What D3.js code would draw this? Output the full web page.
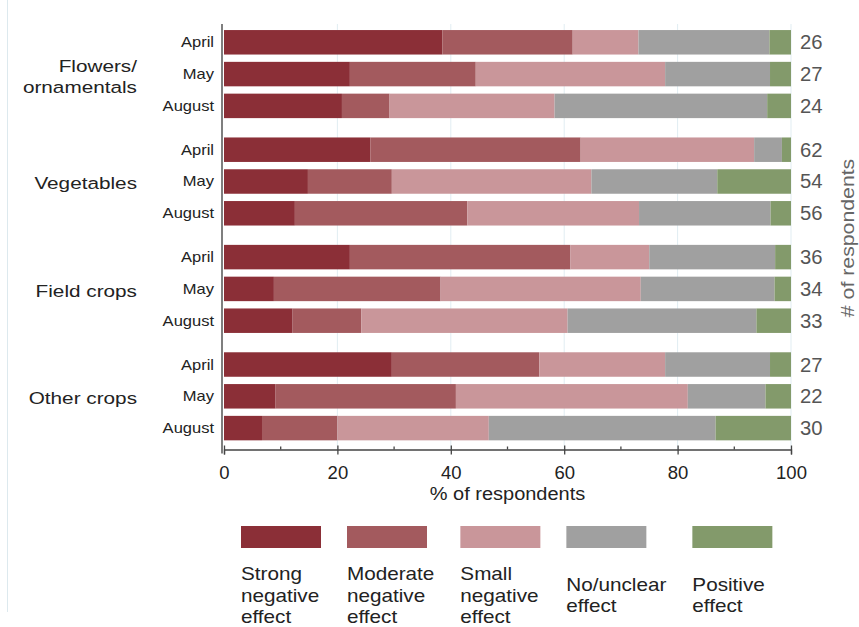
<!doctype html>
<meta charset="utf-8">
<title>Effect on crops by month</title>
<script src="https://cdn.jsdelivr.net/npm/d3@7"></script>
<style>
  body { margin: 0; background: #fff; }
  svg { display: block; font-family: "Liberation Sans", Arial, sans-serif; }
</style>

<div class="chart"></div>

<script>
  const groups = ['Flowers/ ornamentals', 'Vegetables', 'Field crops', 'Other crops']
  const months = ['April', 'May', 'August']
  const effects = ['Strong negative effect', 'Moderate negative effect', 'Small negative effect', 'No/unclear effect', 'Positive effect']
  const colors = ['#8b2f37', '#a35a5e', '#c9969a', '#a0a0a0', '#839a6b']

  // % of respondents, one value per bar, top to bottom
  const strongNeg   = [38.5, 22.2, 20.8, 25.8, 14.8, 12.5, 22.2, 8.8, 12.1, 29.6, 9.1, 6.7]
  const moderateNeg = [23.0, 22.2, 8.4, 37.1, 14.8, 30.4, 38.9, 29.4, 12.1, 26.0, 31.8, 13.3]
  const smallNeg    = [11.6, 33.4, 29.1, 30.6, 35.2, 30.3, 13.9, 35.3, 36.4, 22.2, 40.9, 26.7]
  const noEffect    = [23.1, 18.5, 37.5, 4.9, 22.2, 23.2, 22.2, 23.6, 33.3, 18.5, 13.7, 40.0]
  const positive    = [3.8, 3.7, 4.2, 1.6, 13.0, 3.6, 2.8, 2.9, 6.1, 3.7, 4.5, 13.3]
  const respondents = [26, 27, 24, 62, 54, 56, 36, 34, 33, 27, 22, 30]

  const xTicks = [0, 20, 40, 60, 80, 100]
  const xMinor = [10, 30, 50, 70, 90]

  const series = [strongNeg, moderateNeg, smallNeg, noEffect, positive]
  const rows = []
  groups.forEach((g, gi) => {
    months.forEach((m, mi) => {
      const i = gi * 3 + mi
      const row = { group: g, month: m, n: respondents[i] }
      effects.forEach((e, k) => { row[e] = series[k][i] })
      rows.push(row)
    })
  })

  const svg = d3.select('.chart')
    .append('svg')
    .attr('width', 859)
    .attr('height', 627)

  // faint frame edge on the left
  svg.append('line')
    .attr('x1', 7.5).attr('x2', 7.5)
    .attr('y1', 0).attr('y2', 612)
    .attr('stroke', '#dde9ee')

  const x = d3.scaleLinear().domain([0, 100]).range([224, 791])
  const groupY = d3.scaleBand().domain(groups).range([26.4, 444]).paddingInner(0.112)
  const monthY = d3.scaleBand().domain(months).range([0, groupY.bandwidth()])
    .paddingInner(0.23).paddingOuter(0.115)
  const barY = d => groupY(d.group) + monthY(d.month)
  const axisY = 449.5

  // helper: text stretched horizontally like the source
  function label(sel, tx, ty, sx) {
    return sel.attr('transform', `translate(${tx},${ty}) scale(${sx},1)`)
  }

  // grid lines
  svg.append('g')
    .selectAll('line')
    .data(xTicks.slice(1))
    .join('line')
    .attr('x1', d => x(d)).attr('x2', d => x(d))
    .attr('y1', 24).attr('y2', axisY)
    .attr('stroke', '#e1edf2')

  // bars
  const stacked = d3.stack().keys(effects)(rows)
  svg.append('g')
    .selectAll('g')
    .data(stacked)
    .join('g')
    .attr('fill', (d, i) => colors[i])
    .selectAll('rect')
    .data(d => d)
    .join('rect')
    .attr('x', d => x(d[0]))
    .attr('width', d => x(d[1]) - x(d[0]))
    .attr('y', d => barY(d.data))
    .attr('height', monthY.bandwidth())

  // left axis line
  svg.append('line')
    .attr('x1', x(0) - 2).attr('x2', x(0) - 2)
    .attr('y1', 24).attr('y2', axisY + 4)
    .attr('stroke', '#555').attr('stroke-width', 1.5)

  // bottom axis
  const xAxis = svg.append('g')
    .attr('transform', `translate(0,${axisY})`)
    .call(d3.axisBottom(x).tickValues(xTicks).tickSizeOuter(0).tickSize(5).tickPadding(11))
  xAxis.select('.domain').attr('stroke', '#444').attr('stroke-width', 1.3)
  xAxis.selectAll('.tick line').attr('y1', -4).attr('stroke', '#444').attr('stroke-width', 1.3)
  xAxis.selectAll('.tick text')
    .attr('font-size', 18.5)
    .attr('fill', '#222')
    .attr('font-family', '"Liberation Sans", Arial, sans-serif')
  svg.append('g')
    .selectAll('line')
    .data(xMinor)
    .join('line')
    .attr('x1', d => x(d)).attr('x2', d => x(d))
    .attr('y1', axisY - 3).attr('y2', axisY)
    .attr('stroke', '#444').attr('stroke-width', 1.3)

  label(svg.append('text'), (x(0) + x(100)) / 2, 500, 1.08)
    .attr('text-anchor', 'middle')
    .attr('font-size', 18.5)
    .attr('fill', '#222')
    .text('% of respondents')

  // month labels
  svg.append('g')
    .selectAll('text')
    .data(rows)
    .join('text')
    .each(function (d) {
      label(d3.select(this), 214, barY(d) + monthY.bandwidth() / 2 + 5, 1.18)
    })
    .attr('text-anchor', 'end')
    .attr('font-size', 14)
    .attr('fill', '#222')
    .text(d => d.month)

  // group labels
  svg.append('g')
    .selectAll('text')
    .data(groups)
    .join('text')
    .each(function (g) {
      const cy = groupY(g) + monthY('May') + monthY.bandwidth() / 2
      const lines = g.includes('/') ? g.split(' ') : [g]
      const t = label(d3.select(this), 137, cy + 6, 1.22)
      lines.forEach((s, i) => {
        t.append('tspan')
          .attr('x', 0)
          .attr('y', (i - (lines.length - 1) / 2) * 21 + 2)
          .text(s)
      })
    })
    .attr('text-anchor', 'end')
    .attr('font-size', 17)
    .attr('fill', '#222')

  // respondent counts
  svg.append('g')
    .selectAll('text')
    .data(rows)
    .join('text')
    .each(function (d) {
      label(d3.select(this), 800, barY(d) + monthY.bandwidth() / 2 + 7, 1.04)
    })
    .attr('font-size', 19.5)
    .attr('fill', '#555')
    .text(d => d.n)

  svg.append('text')
    .attr('transform', `translate(854,${(groupY.range()[0] + axisY) / 2}) rotate(-90) scale(1.15,1)`)
    .attr('text-anchor', 'middle')
    .attr('font-size', 18.5)
    .attr('fill', '#666')
    .text('# of respondents')

  // legend
  const boxW = 80, gap = 26
  let lx = 241
  effects.forEach((e, i) => {
    const item = svg.append('g')
    item.append('rect')
      .attr('x', lx).attr('y', 526)
      .attr('width', boxW).attr('height', 22)
      .attr('fill', colors[i])
    const lines = e.split(' ')
    let maxW = 0
    lines.forEach((s, j) => {
      const t = label(item.append('text'), lx, 601.5 + (j - (lines.length - 1) / 2) * 21.5, 1.15)
        .attr('font-size', 18)
        .attr('fill', '#222')
        .text(s)
      maxW = Math.max(maxW, t.node().getComputedTextLength() * 1.15)
    })
    lx += Math.max(boxW, maxW) + gap
  })
</script>
